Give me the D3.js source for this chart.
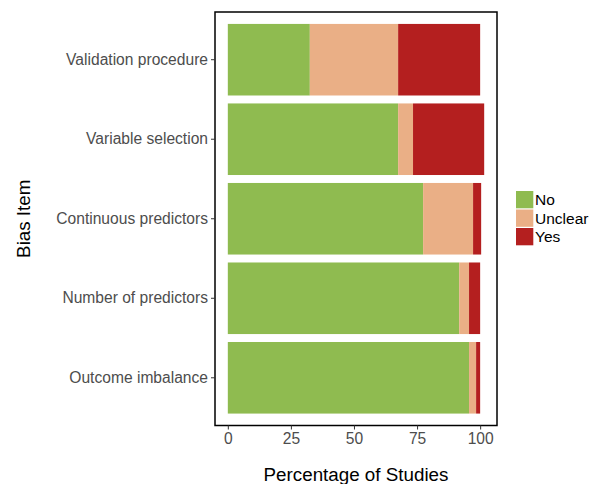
<!DOCTYPE html>
<html>
<head>
<meta charset="utf-8">
<script src="https://cdn.jsdelivr.net/npm/d3@7"></script>
<style>
  body { margin: 0; background: #fff; }
  svg { font-family: "Liberation Sans", Arial, sans-serif; }
  .tick-label { fill: #4d4d4d; font-size: 15.6px; }
  .axis-title { fill: #000; font-size: 18.8px; }
  .legend-label { fill: #000; font-size: 15.5px; }
</style>
</head>
<body>
<div id="chart"></div>
<script>
// bias items, top to bottom
const items = ["Validation procedure", "Variable selection", "Continuous predictors", "Number of predictors", "Outcome imbalance"];
const levels = ["No", "Unclear", "Yes"];

// percentages per level, same order as items
const noValues      = [32.5, 67.5, 77.4, 91.7, 95.6];
const unclearValues = [35.0,  5.9, 19.8,  3.9,  2.8];
const yesValues     = [32.5, 28.2,  3.2,  4.4,  1.6];

const xTicks = [0, 25, 50, 75, 100];

const svgWidth = 602;
const svgHeight = 484;
const panel = { left: 215, right: 497, top: 12, bottom: 425.5 };

const color = d3.scaleOrdinal()
  .domain(levels)
  .range(["#8fbb50", "#eaaf86", "#b41f1f"]);

const rows = items.map((item, i) => ({
  item: item,
  No: noValues[i],
  Unclear: unclearValues[i],
  Yes: yesValues[i]
}));

const stacked = d3.stack().keys(levels)(rows);
const maxTotal = d3.max(rows, d => d.No + d.Unclear + d.Yes);
const pad = maxTotal * 0.05;

const xScale = d3.scaleLinear()
  .domain([-pad, maxTotal + pad])
  .range([panel.left, panel.right]);

// ggplot-style discrete expansion of 0.6 on each side
const step = (panel.bottom - panel.top) / (items.length - 1 + 1.2);
const yScale = d3.scaleBand()
  .domain(items)
  .range([panel.top + 0.1 * step, panel.bottom - 0.1 * step])
  .paddingInner(0.1)
  .paddingOuter(0.05);

const svg = d3.select("#chart").append("svg")
  .attr("width", svgWidth)
  .attr("height", svgHeight);

svg.append("g")
  .selectAll("g")
  .data(stacked)
  .join("g")
  .attr("fill", d => color(d.key))
  .selectAll("rect")
  .data(d => d)
  .join("rect")
  .attr("x", d => xScale(d[0]))
  .attr("y", d => yScale(d.data.item))
  .attr("width", d => xScale(d[1]) - xScale(d[0]))
  .attr("height", yScale.bandwidth());

// panel border
svg.append("rect")
  .attr("x", panel.left)
  .attr("y", panel.top)
  .attr("width", panel.right - panel.left)
  .attr("height", panel.bottom - panel.top)
  .attr("fill", "none")
  .attr("stroke", "#000")
  .attr("stroke-width", 1.5);

// x axis
const xAxis = svg.append("g")
  .attr("transform", `translate(0,${panel.bottom})`)
  .call(d3.axisBottom(xScale).tickValues(xTicks).tickSize(4).tickPadding(3));
xAxis.select(".domain").remove();
xAxis.selectAll(".tick line").attr("stroke", "#333").attr("stroke-width", 1);
xAxis.selectAll(".tick text").attr("class", "tick-label").attr("font-family", null).attr("font-size", null).attr("fill", null);

// y axis
const yAxis = svg.append("g")
  .attr("transform", `translate(${panel.left},0)`)
  .call(d3.axisLeft(yScale).tickSize(4).tickPadding(3));
yAxis.select(".domain").remove();
yAxis.selectAll(".tick line").attr("stroke", "#333").attr("stroke-width", 1);
yAxis.selectAll(".tick text").attr("class", "tick-label").attr("font-family", null).attr("font-size", null).attr("fill", null);

// axis titles
svg.append("text")
  .attr("class", "axis-title")
  .attr("x", (panel.left + panel.right) / 2)
  .attr("y", 481)
  .attr("text-anchor", "middle")
  .text("Percentage of Studies");

svg.append("text")
  .attr("class", "axis-title")
  .attr("transform", "rotate(-90)")
  .attr("x", -(panel.top + panel.bottom) / 2)
  .attr("y", 30)
  .attr("text-anchor", "middle")
  .text("Bias Item");

// legend
const legend = svg.append("g")
  .attr("transform", "translate(516,191)");

const keys = legend.selectAll("g")
  .data(levels)
  .join("g")
  .attr("transform", (d, i) => `translate(0,${i * 18.5})`);

keys.append("rect")
  .attr("width", 17.3)
  .attr("height", 17.3)
  .attr("fill", d => color(d));

keys.append("text")
  .attr("class", "legend-label")
  .attr("x", 19)
  .attr("y", 14)
  .text(d => d);
</script>
</body>
</html>
